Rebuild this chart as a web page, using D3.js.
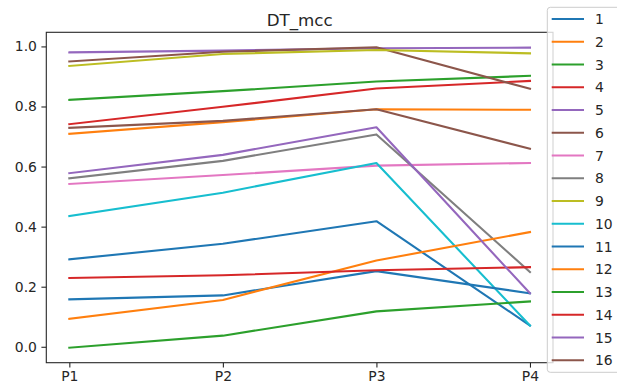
<!DOCTYPE html>
<html>
<head>
<meta charset="utf-8">
<script src="https://cdn.jsdelivr.net/npm/d3@7"></script>
<style>
  html, body { margin: 0; padding: 0; background: #fff; }
  svg { display: block; font-family: "DejaVu Sans", sans-serif; }
</style>
</head>
<body>
<svg id="chart" width="617" height="391"></svg>
<script>
// Categories along the x axis
const stages = ["P1", "P2", "P3", "P4"];

// One list of MCC scores per run
const s1  = [0.291, 0.343, 0.418, 0.071];
const s2  = [0.709, 0.748, 0.791, 0.789];
const s3  = [0.822, 0.851, 0.883, 0.902];
const s4  = [0.741, 0.799, 0.860, 0.885];
const s5  = [0.980, 0.986, 0.994, 0.996];
const s6  = [0.950, 0.982, 0.997, 0.859];
const s7  = [0.542, 0.572, 0.603, 0.612];
const s8  = [0.561, 0.619, 0.707, 0.249];
const s9  = [0.935, 0.975, 0.988, 0.977];
const s10 = [0.435, 0.513, 0.612, 0.071];
const s11 = [0.158, 0.171, 0.252, 0.178];
const s12 = [0.093, 0.156, 0.287, 0.382];
const s13 = [-0.003, 0.037, 0.118, 0.151];
const s14 = [0.229, 0.238, 0.255, 0.265];
const s15 = [0.578, 0.639, 0.731, 0.178];
const s16 = [0.729, 0.752, 0.791, 0.659];

const seriesNames = ["1","2","3","4","5","6","7","8","9","10","11","12","13","14","15","16"];
const seriesValues = [s1,s2,s3,s4,s5,s6,s7,s8,s9,s10,s11,s12,s13,s14,s15,s16];

const yTicks = [0.0, 0.2, 0.4, 0.6, 0.8, 1.0];
const chartTitle = "DT_mcc";

const palette = ["#1f77b4","#ff7f0e","#2ca02c","#d62728","#9467bd",
                 "#8c564b","#e377c2","#7f7f7f","#bcbd22","#17becf"];

const svg = d3.select("#chart");
const frame = { left: 46.3, right: 553, top: 32.3, bottom: 362.7 };

// x: categorical positions with a 5% pad on each side of the frame
const xScale = d3.scalePoint().domain(stages)
  .range([frame.left + (frame.right - frame.left) * 0.05 / 1.1,
          frame.right - (frame.right - frame.left) * 0.05 / 1.1]);

// y: data extent padded by 5%
const all = seriesValues.flat();
const lo = d3.min(all), hi = d3.max(all), pad = (hi - lo) * 0.05;
const yScale = d3.scaleLinear().domain([lo - pad, hi + pad])
  .range([frame.bottom, frame.top]);

const textColor = "#262626";

// data lines
const line = d3.line().x((d, i) => xScale(stages[i])).y(d => yScale(d));
const g = svg.append("g");
seriesValues.forEach((vals, i) => {
  g.append("path")
    .attr("d", line(vals))
    .attr("fill", "none")
    .attr("stroke", palette[i % palette.length])
    .attr("stroke-width", 2.1)
    .attr("stroke-linejoin", "round")
    .attr("stroke-linecap", "square");
});

// axes frame
svg.append("rect")
  .attr("x", frame.left).attr("y", frame.top)
  .attr("width", frame.right - frame.left)
  .attr("height", frame.bottom - frame.top)
  .attr("fill", "none").attr("stroke", "#262626").attr("stroke-width", 1.1);

// x axis
const xAxis = d3.axisBottom(xScale).tickSize(4.9).tickPadding(4);
const gx = svg.append("g").attr("transform", `translate(0,${frame.bottom})`).call(xAxis);
gx.select(".domain").remove();
gx.selectAll("line").attr("stroke", "#262626").attr("stroke-width", 1.1);
gx.selectAll("text").attr("fill", textColor).style("font-size", "13.9px")
  .style("font-family", "DejaVu Sans, sans-serif");

// y axis
const yAxis = d3.axisLeft(yScale).tickValues(yTicks).tickFormat(d3.format(".1f"))
  .tickSize(4.9).tickPadding(4.5);
const gy = svg.append("g").attr("transform", `translate(${frame.left},0)`).call(yAxis);
gy.select(".domain").remove();
gy.selectAll("line").attr("stroke", "#262626").attr("stroke-width", 1.1);
gy.selectAll("text").attr("fill", textColor).style("font-size", "13.9px")
  .style("font-family", "DejaVu Sans, sans-serif");

// title
svg.append("text")
  .attr("x", (frame.left + frame.right) / 2).attr("y", 26)
  .attr("text-anchor", "middle")
  .attr("fill", textColor)
  .style("font-size", "16.7px")
  .text(chartTitle);

// legend
const leg = svg.append("g");
const legX = 547.3, legY = 7.3, legH = 365, rowGap = 22.75, firstRow = 19;
leg.append("rect")
  .attr("x", legX).attr("y", legY).attr("width", 100).attr("height", legH)
  .attr("rx", 3).attr("fill", "#fff").attr("fill-opacity", 0.8)
  .attr("stroke", "#cccccc").attr("stroke-width", 1);
seriesNames.forEach((name, i) => {
  const y = firstRow + i * rowGap;
  leg.append("line")
    .attr("x1", 551.7).attr("x2", 584).attr("y1", y).attr("y2", y)
    .attr("stroke", palette[i % palette.length]).attr("stroke-width", 2.1);
  leg.append("text")
    .attr("x", 595).attr("y", y).attr("dy", "0.36em")
    .attr("fill", textColor).style("font-size", "13.9px")
    .text(name);
});
</script>
</body>
</html>
